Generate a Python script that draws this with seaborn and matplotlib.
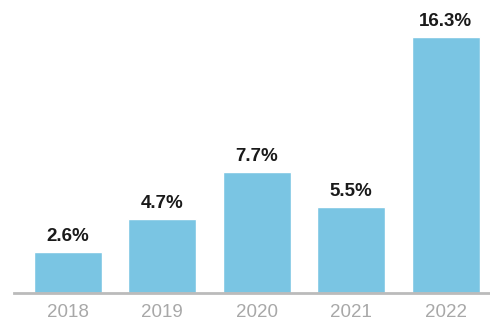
import matplotlib
matplotlib.use("Agg")
import matplotlib.pyplot as plt
import seaborn as sns
import pandas as pd

years = ["2018", "2019", "2020", "2021", "2022"]
values = [2.6, 4.7, 7.7, 5.5, 16.3]
labels = ["2.6%", "4.7%", "7.7%", "5.5%", "16.3%"]

sns.set_theme(style="white")
plt.rcParams["font.family"] = ["Liberation Sans", "DejaVu Sans"]

df = pd.DataFrame({"year": years, "value": values})

fig = plt.figure(figsize=(4.9, 3.24), dpi=100)
ax = fig.add_axes([14/490, 31/324, 1 - 14/490, 293/324])
sns.barplot(data=df, x="year", y="value", color="#7AC5E3", saturation=1,
            width=0.72, ax=ax)

for i, (v, lab) in enumerate(zip(values, labels)):
    ax.annotate(lab, (i, v), xytext=(0, 5), textcoords="offset points",
                ha="center", va="bottom", fontsize=13.5, fontweight="bold",
                color="#1a1a1a")

ax.set_xlim(-0.57, 4.47)
ax.set_ylim(0, 18.65)
ax.set_xlabel("")
ax.set_ylabel("")
ax.set_yticks([])
ax.tick_params(axis="x", length=0, pad=8, labelsize=13.5, labelcolor="#A8A8A8")
for s in ["top", "right", "left"]:
    ax.spines[s].set_visible(False)
ax.spines["bottom"].set_color("#BBBBBB")
ax.spines["bottom"].set_linewidth(2)

fig.savefig("out.png", dpi=100)
